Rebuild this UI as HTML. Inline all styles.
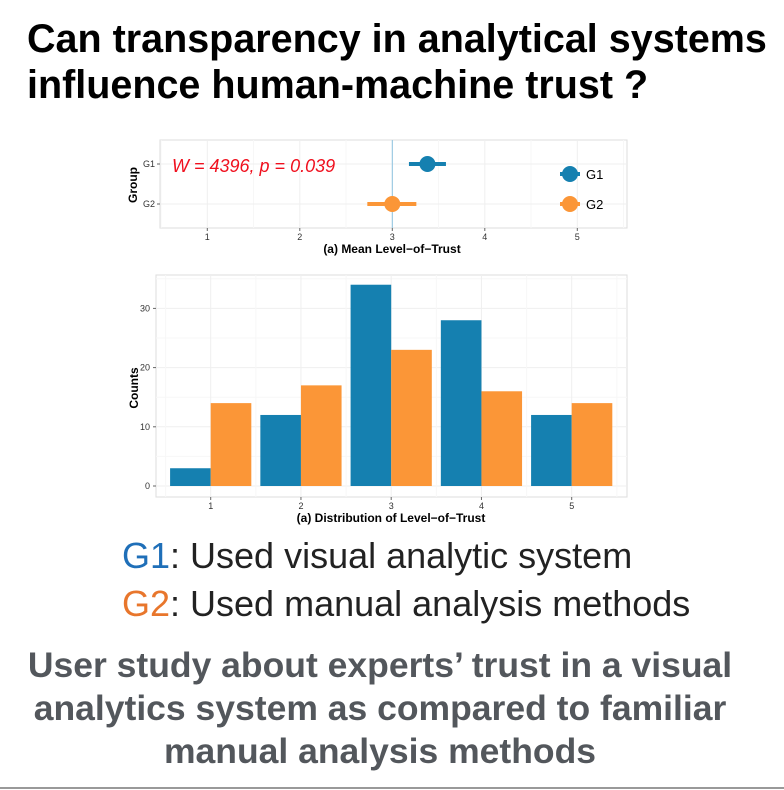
<!DOCTYPE html>
<html><head><meta charset="utf-8"><style>
body{margin:0;width:784px;height:790px;background:#fff;position:relative;overflow:hidden;font-family:"Liberation Sans",sans-serif}
.t{position:absolute;white-space:nowrap}
</style></head><body>
<div class="t" style="left:27px;top:16px;font-size:39.5px;font-weight:bold;line-height:46px;color:#000">Can transparency in analytical systems<br>influence human-machine trust ?</div>
<svg id="c" width="784" height="540" style="position:absolute;left:0;top:0"></svg>
<div class="t" style="left:122px;top:535px;font-size:36px;color:#222"><span style="color:#1f6fb8">G1</span>: Used visual analytic system</div>
<div class="t" style="left:122px;top:583px;font-size:36px;color:#222"><span style="color:#e8762c">G2</span>: Used manual analysis methods</div>
<div class="t" style="left:0;width:760px;top:644px;text-align:center;font-size:35.5px;font-weight:bold;line-height:43px;color:#53575c">User study about experts’ trust in a visual<br>analytics system as compared to familiar<br>manual analysis methods</div>
<div style="position:absolute;left:0;top:787px;width:784px;height:2px;background:#999"></div>
<script>
const groups=["G1","G2"];
const means=[3.38,3.0];
const lows=[3.18,2.73];
const highs=[3.58,3.26];
const levels=[1,2,3,4,5];
const g1Counts=[3,12,34,28,12];
const g2Counts=[14,17,23,16,14];
const yTicks=[0,10,20,30];
const colors=["#1580b0","#fb9637"];
const NS="http://www.w3.org/2000/svg";
const svg=document.getElementById('c');
function mk(tag,attrs,name,parent){const e=document.createElementNS(NS,tag);for(const k in attrs)e.setAttribute(k,attrs[k]);


(parent||svg).appendChild(e);return e;}
function txt(x,y,s,attrs,name){const e=mk('text',Object.assign({x:x,y:y,'font-family':'Liberation Sans, sans-serif'},attrs),name);e.textContent=s;return e;}
// top chart
const tx=v=>207.3+(v-1)*92.5;
const gy=[164,204];
mk('rect',{x:160,y:140,width:467,height:88,fill:'#fff',stroke:'#ddd','stroke-width':1},'top-panel');
for(let v=0.5;v<=5.5;v+=0.5){mk('line',{x1:tx(v),x2:tx(v),y1:140,y2:228,stroke:v%1?'#f7f7f7':'#efefef'},'top-gridline');}
gy.forEach(y=>mk('line',{x1:160,x2:627,y1:y,y2:y,stroke:'#efefef'},'top-gridline-h'));
mk('line',{x1:tx(3),x2:tx(3),y1:140,y2:228,stroke:'#8ec3e0','stroke-width':1},'reference-line');
levels.forEach(v=>{mk('line',{x1:tx(v),x2:tx(v),y1:228,y2:231,stroke:'#666'},'top-x-tick');txt(tx(v),240,String(v),{'font-size':9,'text-anchor':'middle',fill:'#333'},'top-x-tick-label');});
groups.forEach((g,i)=>{mk('line',{x1:157,x2:160,y1:gy[i],y2:gy[i],stroke:'#666'},'top-y-tick');txt(155,gy[i]+3,g,{'font-size':9,'text-anchor':'end',fill:'#333'},'top-y-tick-label');
mk('line',{x1:tx(lows[i]),x2:tx(highs[i]),y1:gy[i],y2:gy[i],stroke:colors[i],'stroke-width':4},'error-bar-'+g.toLowerCase());
mk('circle',{cx:tx(means[i]),cy:gy[i],r:8,fill:colors[i]},'mean-point-'+g.toLowerCase());
const ly=[174,204][i];
mk('line',{x1:560,x2:580,y1:ly,y2:ly,stroke:colors[i],'stroke-width':4},'legend-key-line');
mk('circle',{cx:570,cy:ly,r:8,fill:colors[i]},'legend-key-'+g.toLowerCase());
txt(586,ly+5,g,{'font-size':13,fill:'#000'},'legend-label-'+g.toLowerCase());});
txt(172,172,'W = 4396, p = 0.039',{'font-size':18,'font-style':'italic',fill:'#f0101e'},'stat-annotation');
txt(392,253,'(a) Mean Level\u2212of\u2212Trust',{'font-size':12,'font-weight':'bold','text-anchor':'middle'},'top-x-axis-title');
txt(137,185,'Group',{'font-size':12,'font-weight':'bold','text-anchor':'middle',transform:'rotate(-90 137 185)'},'top-y-axis-title');
// bottom chart
const bx=v=>210.7+(v-1)*90.25;
const by=v=>486-v*5.92;
mk('rect',{x:156,y:275,width:471,height:222,fill:'#fff',stroke:'#ddd'},'bottom-panel');
for(let v=5;v<=35;v+=5){if(by(v)>275)mk('line',{x1:156,x2:627,y1:by(v),y2:by(v),stroke:v%10?'#f7f7f7':'#efefef'},'bottom-gridline-h');}
mk('line',{x1:156,x2:627,y1:by(0),y2:by(0),stroke:'#efefef'},'bottom-gridline-h');
for(let v=0.5;v<=5.5;v+=0.5)mk('line',{x1:bx(v),x2:bx(v),y1:275,y2:497,stroke:v%1?'#f7f7f7':'#efefef'},'bottom-gridline-v');
const bw=0.45*90.25;
levels.forEach((l,i)=>{
mk('rect',{x:bx(l)-bw,y:by(g1Counts[i]),width:bw,height:by(0)-by(g1Counts[i]),fill:colors[0]},'bar-g1-level-'+l);
mk('rect',{x:bx(l),y:by(g2Counts[i]),width:bw,height:by(0)-by(g2Counts[i]),fill:colors[1]},'bar-g2-level-'+l);
mk('line',{x1:bx(l),x2:bx(l),y1:497,y2:500,stroke:'#666'},'bottom-x-tick');
txt(bx(l),509,String(l),{'font-size':9,'text-anchor':'middle',fill:'#333'},'bottom-x-tick-label');});
yTicks.forEach(v=>{mk('line',{x1:153,x2:156,y1:by(v),y2:by(v),stroke:'#666'},'bottom-y-tick');txt(150,by(v)+3,String(v),{'font-size':9,'text-anchor':'end',fill:'#333'},'bottom-y-tick-label');});
txt(391,522,'(a) Distribution of Level\u2212of\u2212Trust',{'font-size':12,'font-weight':'bold','text-anchor':'middle'},'bottom-x-axis-title');
txt(138,388,'Counts',{'font-size':12,'font-weight':'bold','text-anchor':'middle',transform:'rotate(-90 138 388)'},'bottom-y-axis-title');
</script>
</body></html>
